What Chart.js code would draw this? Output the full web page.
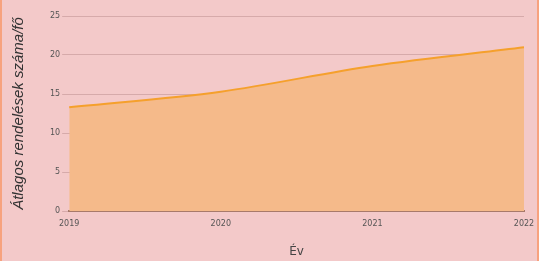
<!DOCTYPE html>
<html>
<head>
<meta charset="utf-8">
<script src="https://cdn.jsdelivr.net/npm/chart.js@4"></script>
<style>
  html, body { margin: 0; padding: 0; background: #f3c9c9; overflow: hidden; }
  .grafico { position: relative; width: 535px; height: 264px; border-left: 2px solid #f7a27e; border-right: 2px solid #f7a27e; }
</style>
</head>
<body>
<div class="grafico"><canvas id="grafico"></canvas></div>
<script>
// datos
const evek = ["2019", "2020", "2021", "2022"];
const atlagRendeles = [13.3, 15.3, 18.6, 21.0];
const yTicks = [0, 5, 10, 15, 20, 25];

const ctx = document.querySelector("#grafico").getContext("2d");
new Chart(ctx, {
    type: "line",
    data: {
        labels: evek,
        datasets: [{
            data: atlagRendeles,
            borderColor: "#f5a02c",
            backgroundColor: "#f5ba8a",
            fill: "origin",
            borderWidth: 2,
            pointRadius: 0,
            cubicInterpolationMode: "monotone"
        }]
    },
    options: {
        responsive: true,
        maintainAspectRatio: false,
        animation: false,
        layout: { padding: { top: 16, right: 2, left: 4, bottom: 1 } },
        plugins: { legend: { display: false }, tooltip: { enabled: false } },
        scales: {
            x: {
                offset: false,
                afterFit: s => { s.paddingRight = 13; }, // el padding de los ticks empujaba el grafico
                grid: { display: false, drawTicks: false },
                border: { color: "#a77a6a", width: 2 },
                ticks: { color: "#555", font: { family: "DejaVu Sans", size: 8 }, padding: 8, maxRotation: 0 },
                title: { display: true, text: "Év", color: "#444", font: { family: "DejaVu Sans", size: 12 }, padding: { top: 8 } }
            },
            y: {
                min: 0, max: 25,
                afterBuildTicks: s => { s.ticks = yTicks.map(v => ({ value: v })); },
                grid: { color: "#d6aaaa", drawTicks: true, tickLength: 7, tickColor: "#d6aaaa" },
                border: { display: false },
                ticks: { color: "#555", font: { family: "DejaVu Sans", size: 8 }, padding: 2 },
                title: { display: true, text: "Átlagos rendelések száma/fő", color: "#333",
                    font: { family: "Liberation Sans", size: 15, style: "italic" }, padding: { bottom: 20 } }
            }
        }
    }
});
</script>
</body>
</html>
